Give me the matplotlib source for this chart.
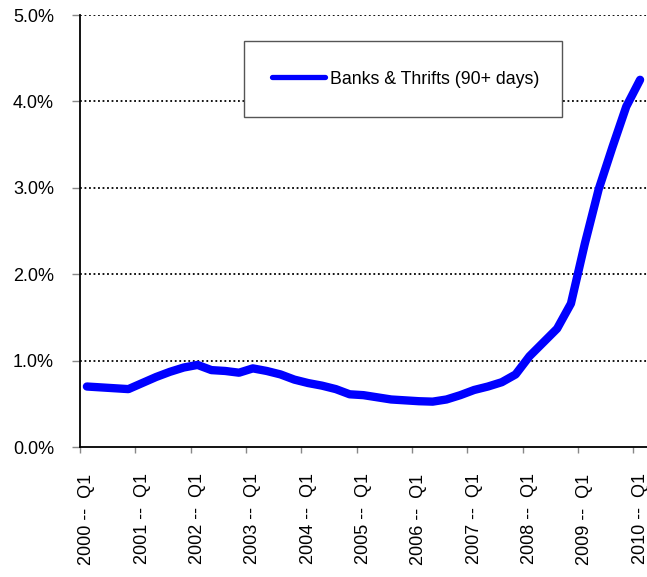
import numpy as np
import matplotlib.pyplot as plt
from matplotlib.lines import Line2D
from matplotlib.patches import Rectangle

plt.rcParams['font.family'] = ['Liberation Sans', 'DejaVu Sans']

# delinquency rate (%), quarterly 2000 Q1 .. 2010 Q1
rates = [0.70, 0.69, 0.68, 0.67, 0.74, 0.81, 0.87, 0.92, 0.95, 0.89,
         0.88, 0.86, 0.91, 0.88, 0.84, 0.78, 0.74, 0.71, 0.67, 0.61,
         0.60, 0.575, 0.55, 0.54, 0.53, 0.525, 0.55, 0.60, 0.66, 0.70,
         0.75, 0.84, 1.05, 1.21, 1.37, 1.66, 2.35, 2.98, 3.47, 3.94, 4.25]
years = list(range(2000, 2011))
tick_labels = [f"{y} --  Q1" for y in years]
ytick_vals = [0, 1, 2, 3, 4, 5]
ytick_labels = [f"{v:.1f}%" for v in ytick_vals]
series_name = "Banks & Thrifts (90+ days)"

W, H = 647, 577
fig = plt.figure(figsize=(W / 100, H / 100), dpi=100)
ax = fig.add_axes([80 / W, 1 - 447 / H, 567 / W, 432 / H])

x = np.arange(len(rates))
ax.plot(x, rates, color='#0000ff', lw=6.0, solid_capstyle='round',
        solid_joinstyle='round', zorder=3)

ax.set_xlim(-0.5, len(rates) - 0.5)
ax.set_ylim(0, 5)

# dotted gridlines
for v in ytick_vals[1:]:
    ax.axhline(v, color='black', lw=1.3, linestyle=(0, (1, 1.5)), zorder=1)

ax.set_yticks(ytick_vals)
ax.set_yticklabels(ytick_labels)
ax.tick_params(axis='y', direction='out', length=5.8, width=1, color='#888888',
               pad=13, labelsize=13)

# major ticks at category boundaries, labels at the Q1 points
ax.set_xticks(np.arange(-0.5, len(rates) - 1, 4))
ax.set_xticklabels([])
ax.set_xticks(np.arange(0, len(rates), 4), minor=True)
ax.set_xticklabels(tick_labels, minor=True, rotation=90)
ax.tick_params(axis='x', which='major', direction='out', length=4.5, width=1,
               color='#888888')
ax.tick_params(axis='x', which='minor', length=0, pad=19, labelsize=13)

for s in ['top', 'right']:
    ax.spines[s].set_visible(False)
for s in ['left', 'bottom']:
    ax.spines[s].set_linewidth(1.3)
    ax.spines[s].set_color('black')

# legend box (pixel coords converted to axes fraction)
bx0, by0, bx1, by1 = 244, 41, 562, 117
ax.add_patch(Rectangle(((bx0 - 80) / 567, (447 - by1) / 432),
                       (bx1 - bx0) / 567, (by1 - by0) / 432,
                       transform=ax.transAxes, facecolor='white',
                       edgecolor='#555555', lw=1.0, zorder=4, clip_on=False))
handle = Line2D([], [], color='#0000ff', lw=3.8, solid_capstyle='round')
leg = ax.legend([handle], [series_name], loc='center left',
                bbox_to_anchor=((272 - 80) / 567, (447 - 79) / 432),
                fontsize=12.8, frameon=False, borderpad=0,
                handlelength=3.0, handletextpad=0.25, borderaxespad=0)
leg.set_zorder(5)

fig.savefig('out.png', dpi=100)
